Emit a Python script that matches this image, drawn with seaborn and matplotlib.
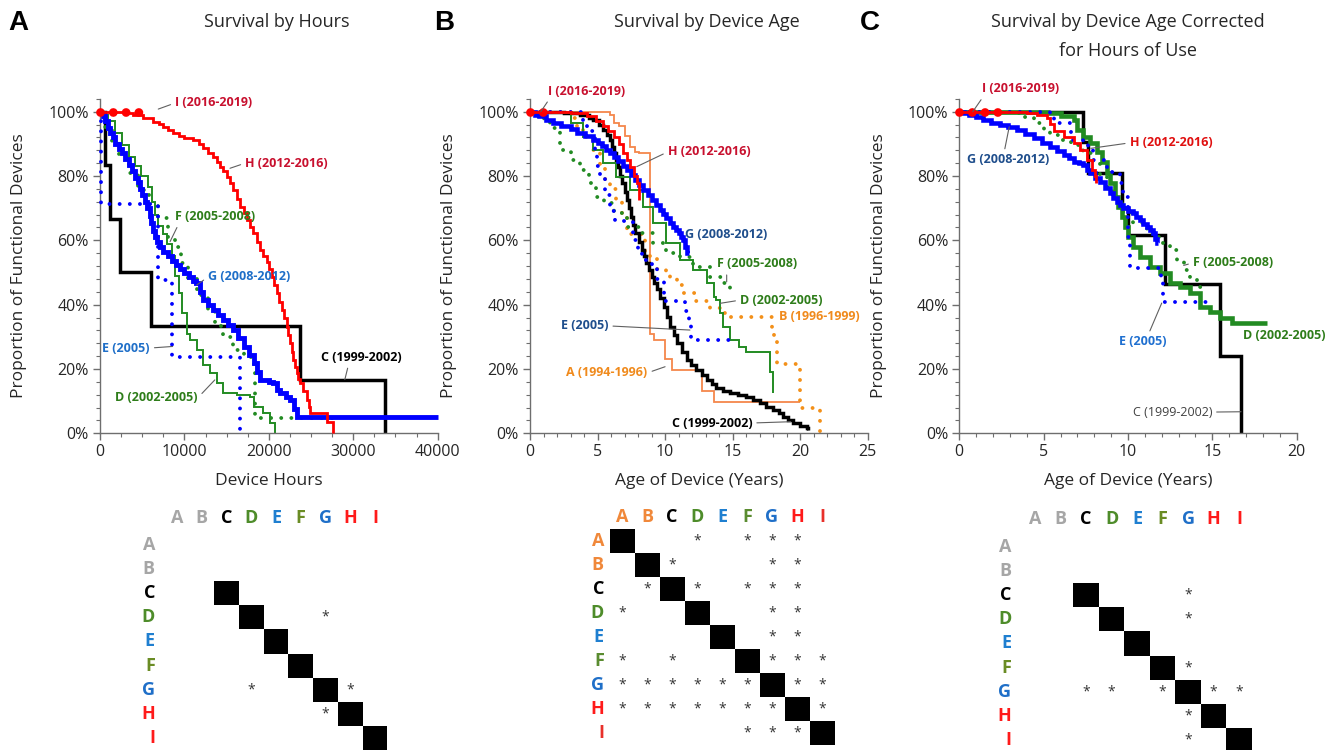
import numpy as np
import pandas as pd
import matplotlib
matplotlib.use("Agg")
import matplotlib.pyplot as plt
import seaborn as sns
from matplotlib.colors import ListedColormap
from matplotlib.ticker import MultipleLocator, FuncFormatter

# ------------------------------------------------------------------ data
# Panel A : survival by device hours
A_hours_C = [0, 600, 1200, 2400, 6000, 23700, 33800]
A_surv_C = [1.0, 0.833, 0.667, 0.5, 0.333, 0.167, 0.0]
A_hours_D = [0, 400, 1000, 1800, 2600, 3400, 4100, 4900, 5700, 6200, 6500, 6900, 7500, 7900, 8500, 8900,
             9300, 9700, 10300, 10700, 11450, 12250, 13000, 13800, 14600, 16200, 17800, 18200, 19350, 20150, 20700]
A_surv_D = [1.0, 0.99, 0.97, 0.935, 0.895, 0.86, 0.83, 0.80, 0.765, 0.72, 0.68, 0.645, 0.62, 0.59, 0.55, 0.49,
            0.435, 0.373, 0.31, 0.29, 0.259, 0.212, 0.187, 0.155, 0.124, 0.119, 0.114, 0.083, 0.062, 0.031, 0.0]
A_hours_E = [0, 100, 6900, 8550, 16600]
A_surv_E = [1.0, 0.714, 0.476, 0.238, 0.0]
A_hours_F = [0, 300, 600, 1400, 2200, 3400, 4500, 5800, 6900, 8000, 8900, 9600, 10400, 11500, 12800, 13600,
             14600, 15800, 17000, 18200, 18400, 27700]
A_surv_F = [1.0, 0.98, 0.953, 0.902, 0.86, 0.808, 0.757, 0.71, 0.67, 0.61, 0.58, 0.53, 0.48, 0.43, 0.385, 0.335,
            0.30, 0.259, 0.238, 0.207, 0.047, 0.047]
A_hours_G = [0, 150, 300, 600, 900, 1200, 1500, 1800, 2200, 2600, 3000, 3400, 3800, 4200, 4500, 4700, 5000,
             5300, 5600, 5900, 6100, 6300, 6500, 6700, 7100, 7500, 8000, 8500, 9000, 9500, 10000, 10500, 11000,
             11400, 11800, 12200, 12800, 13400, 14000, 14600, 15200, 15800, 16400, 17000, 17600, 18200, 18600,
             19000, 20000, 20500, 21000, 21300, 22000, 22500, 23000, 23300, 40000]
A_surv_G = [1.0, 0.995, 0.985, 0.97, 0.95, 0.935, 0.92, 0.90, 0.885, 0.87, 0.852, 0.835, 0.815, 0.795, 0.78,
            0.76, 0.74, 0.72, 0.70, 0.675, 0.655, 0.63, 0.61, 0.595, 0.58, 0.565, 0.55, 0.535, 0.522, 0.51,
            0.498, 0.485, 0.475, 0.466, 0.44, 0.415, 0.40, 0.383, 0.368, 0.352, 0.337, 0.321, 0.295, 0.269,
            0.243, 0.218, 0.19, 0.166, 0.16, 0.155, 0.135, 0.124, 0.114, 0.104, 0.075, 0.052, 0.052]
A_hours_H = [0, 2800, 3950, 5100, 6300, 7000, 7500, 8100, 8700, 9300, 9900, 11050, 11700, 12250, 12800, 13400,
             13800, 14200, 14600, 15000, 15400, 15800, 16200, 16600, 17000, 17400, 17800, 18150, 18550, 18950,
             19350, 19750, 20050, 20350, 20650, 20950, 21250, 21500, 21800, 22100, 22300, 22500, 22700, 22900,
             23100, 23300, 23500, 23700, 24100, 24500, 24700, 24900, 26850, 27550]
A_surv_H = [1.0, 0.995, 0.99, 0.979, 0.969, 0.962, 0.953, 0.943, 0.933, 0.925, 0.917, 0.912, 0.90, 0.886, 0.873,
            0.86, 0.845, 0.829, 0.815, 0.798, 0.778, 0.756, 0.73, 0.705, 0.685, 0.663, 0.642, 0.622, 0.596, 0.570,
            0.552, 0.534, 0.51, 0.487, 0.461, 0.435, 0.409, 0.383, 0.357, 0.332, 0.306, 0.280, 0.254, 0.228,
            0.207, 0.187, 0.17, 0.155, 0.13, 0.104, 0.083, 0.062, 0.036, 0.0]
A_hours_I = [0, 5900]
A_surv_I = [1.0, 1.0]

# Panel B : survival by device age (years)
B_age_A = [0, 5.9, 6.2, 6.6, 7.0, 7.4, 7.8, 8.1, 8.9, 9.2, 10.0, 10.5, 12.7, 13.6, 20.0]
B_surv_A = [1.0, 0.99, 0.965, 0.955, 0.925, 0.89, 0.875, 0.87, 0.31, 0.29, 0.23, 0.197, 0.13, 0.098, 0.098]
B_age_B = [0, 3.0, 3.5, 3.95, 4.7, 5.2, 5.55, 5.9, 6.4, 6.8, 7.2, 8.5, 9.4, 10.1, 10.4, 10.9, 11.35, 12.3, 13.3,
           14.1, 14.7, 17.9, 18.1, 18.3, 20.0, 21.5]
B_surv_B = [1.0, 0.98, 0.95, 0.92, 0.88, 0.83, 0.79, 0.76, 0.72, 0.68, 0.62, 0.55, 0.51, 0.49, 0.48, 0.46, 0.435,
            0.41, 0.39, 0.373, 0.361, 0.33, 0.29, 0.215, 0.08, 0.0]
B_age_C = [0, 2.5, 3.7, 4.4, 4.7, 5.1, 5.4, 5.7, 5.9, 6.05, 6.2, 6.35, 6.5, 6.65, 6.8, 7.0, 7.2, 7.35, 7.5, 7.65,
           7.8, 8.05, 8.3, 8.45, 8.6, 8.8, 9.0, 9.2, 9.4, 9.65, 9.9, 10.15, 10.4, 10.65, 10.9, 11.25, 11.6, 11.95,
           12.3, 12.7, 13.1, 13.45, 13.8, 14.3, 14.8, 15.4, 16.0, 16.5, 17.0, 17.5, 18.0, 18.4, 18.75, 19.1, 19.5,
           20.0, 20.5, 20.6]
B_surv_C = [1.0, 0.995, 0.99, 0.98, 0.974, 0.958, 0.943, 0.928, 0.912, 0.89, 0.871, 0.85, 0.829, 0.80, 0.777,
            0.75, 0.725, 0.70, 0.674, 0.648, 0.622, 0.596, 0.570, 0.55, 0.529, 0.508, 0.487, 0.468, 0.45, 0.422,
            0.394, 0.362, 0.331, 0.305, 0.28, 0.254, 0.228, 0.212, 0.197, 0.181, 0.166, 0.153, 0.14, 0.132, 0.124,
            0.119, 0.114, 0.104, 0.093, 0.083, 0.072, 0.062, 0.052, 0.041, 0.031, 0.023, 0.016, 0.01]
B_age_D = [0, 1.7, 3.0, 3.95, 4.7, 5.4, 6.4, 7.4, 8.4, 9.1, 10.1, 11.1, 12.1, 13.1, 13.6, 13.8, 14.1, 14.3, 14.8,
           15.5, 16.0, 17.8, 18.0]
B_surv_D = [1.0, 0.995, 0.964, 0.922, 0.881, 0.840, 0.798, 0.757, 0.705, 0.653, 0.591, 0.539, 0.508, 0.466, 0.425,
            0.415, 0.373, 0.331, 0.290, 0.269, 0.254, 0.192, 0.124]
B_age_E = [0, 3.9, 4.2, 4.8, 4.95, 5.2, 5.55, 5.9, 6.3, 7.6, 7.8, 8.0, 8.3, 9.0, 9.4, 9.9, 11.5, 11.8, 11.95, 14.7]
B_surv_E = [1.0, 0.96, 0.94, 0.87, 0.83, 0.79, 0.74, 0.69, 0.66, 0.62, 0.60, 0.57, 0.54, 0.51, 0.48, 0.41, 0.38,
            0.35, 0.29, 0.29]
B_age_F = [0, 0.6, 1.0, 1.5, 2.2, 3.0, 3.7, 4.4, 4.9, 5.5, 6.2, 7.2, 8.1, 9.1, 10.1, 11.1, 12.1, 13.3, 14.3, 14.8]
B_surv_F = [1.0, 0.985, 0.97, 0.95, 0.881, 0.85, 0.819, 0.777, 0.736, 0.715, 0.684, 0.642, 0.622, 0.591, 0.56,
            0.549, 0.518, 0.487, 0.466, 0.43]
B_age_G = [0, 0.4, 0.7, 1.2, 1.7, 2.3, 3.0, 3.5, 4.1, 4.7, 5.0, 5.3, 5.6, 5.9, 6.2, 6.5, 6.85, 7.2, 7.5, 7.8, 8.1,
           8.4, 8.7, 9.0, 9.3, 9.6, 9.85, 10.1, 10.35, 10.6, 10.8, 11.0, 11.2, 11.35, 11.5, 11.6, 11.75]
B_surv_G = [1.0, 0.99, 0.985, 0.975, 0.965, 0.955, 0.945, 0.933, 0.925, 0.912, 0.903, 0.893, 0.882, 0.871, 0.858,
            0.846, 0.832, 0.819, 0.803, 0.788, 0.772, 0.757, 0.741, 0.725, 0.71, 0.694, 0.681, 0.668, 0.655, 0.642,
            0.632, 0.622, 0.611, 0.601, 0.58, 0.56, 0.56]
B_age_H = [0, 3.0, 4.2, 4.9, 5.4, 5.8, 6.2, 6.6, 6.9, 7.2, 7.4, 7.7, 7.9, 8.05]
B_surv_H = [1.0, 0.995, 0.985, 0.97, 0.954, 0.94, 0.922, 0.90, 0.871, 0.85, 0.829, 0.80, 0.777, 0.725]
B_age_I = [0, 1.85]
B_surv_I = [1.0, 1.0]

# Panel C : survival by device age corrected for hours of use
C_age_C = [0, 7.31, 7.6, 9.63, 10.0, 12.2, 15.45, 16.7]
C_surv_C = [1.0, 0.907, 0.81, 0.70, 0.617, 0.464, 0.24, 0.0]
C_age_D = [0, 5.2, 6.0, 6.8, 7.0, 7.35, 7.75, 8.14, 8.44, 8.74, 8.93, 9.23, 9.43, 9.63, 9.82, 10.02, 10.31, 10.71,
           11.3, 11.9, 12.49, 13.08, 13.68, 14.27, 14.86, 15.45, 16.15, 18.22]
C_surv_D = [1.0, 0.995, 0.985, 0.974, 0.943, 0.922, 0.902, 0.876, 0.845, 0.808, 0.777, 0.736, 0.705, 0.674, 0.642,
            0.611, 0.580, 0.549, 0.518, 0.497, 0.466, 0.455, 0.435, 0.394, 0.378, 0.358, 0.342, 0.342]
C_age_E = [0, 5.4, 5.6, 6.6, 7.35, 7.65, 7.95, 8.75, 9.33, 9.53, 9.72, 10.0, 10.12, 11.95, 12.05, 14.86]
C_surv_E = [1.0, 0.99, 0.964, 0.912, 0.907, 0.891, 0.85, 0.813, 0.808, 0.777, 0.736, 0.611, 0.513, 0.477, 0.409,
            0.409]
C_age_F = [0, 3.2, 3.8, 4.4, 5.0, 5.4, 6.0, 6.6, 7.35, 7.95, 8.35, 8.75, 9.13, 9.33, 9.72, 10.3, 11.1, 11.7, 12.1,
           12.5, 12.9, 13.3, 13.7, 14.1, 14.86]
C_surv_F = [1.0, 0.995, 0.984, 0.964, 0.943, 0.928, 0.912, 0.897, 0.871, 0.840, 0.798, 0.767, 0.746, 0.715, 0.684,
            0.653, 0.622, 0.611, 0.591, 0.570, 0.539, 0.508, 0.477, 0.456, 0.456]
C_age_G = [0, 0.3, 0.6, 1.0, 1.4, 1.9, 2.4, 2.9, 3.4, 3.9, 4.4, 4.9, 5.4, 5.8, 6.2, 6.5, 6.8, 7.1, 7.35, 7.55,
           7.75, 8.05, 8.34, 8.64, 8.93, 9.13, 9.33, 9.52, 9.72, 10.0, 10.31, 10.5, 10.71, 10.9, 11.1, 11.3, 11.5,
           11.6, 11.7, 11.75]
C_surv_G = [1.0, 0.995, 0.99, 0.982, 0.974, 0.966, 0.959, 0.951, 0.943, 0.93, 0.917, 0.904, 0.891, 0.878, 0.865,
            0.855, 0.845, 0.84, 0.834, 0.82, 0.808, 0.795, 0.782, 0.764, 0.746, 0.733, 0.72, 0.71, 0.70, 0.692,
            0.684, 0.673, 0.663, 0.652, 0.642, 0.632, 0.622, 0.605, 0.591, 0.591]
C_age_H = [0, 3.5, 4.0, 4.6, 5.2, 5.4, 5.6, 6.2, 6.8, 7.15, 7.55, 7.85, 8.04, 8.1]
C_surv_H = [1.0, 0.998, 0.995, 0.99, 0.979, 0.962, 0.94, 0.922, 0.902, 0.881, 0.85, 0.819, 0.80, 0.777]
C_age_I = [0, 2.31]
C_surv_I = [1.0, 1.0]

# Pairwise comparison matrices
groups = ["A", "B", "C", "D", "E", "F", "G", "H", "I"]
hours_present = [0, 0, 1, 1, 1, 1, 1, 1, 1]
hours_sig = [("D", "G"), ("G", "D"), ("G", "H"), ("H", "G")]
age_present = [1, 1, 1, 1, 1, 1, 1, 1, 1]
age_sig = [("A", "D"), ("A", "F"), ("A", "G"), ("A", "H"),
           ("B", "C"), ("B", "G"), ("B", "H"),
           ("C", "B"), ("C", "D"), ("C", "F"), ("C", "G"), ("C", "H"),
           ("D", "A"), ("D", "G"), ("D", "H"),
           ("E", "G"), ("E", "H"),
           ("F", "A"), ("F", "C"), ("F", "G"), ("F", "H"), ("F", "I"),
           ("G", "A"), ("G", "B"), ("G", "C"), ("G", "D"), ("G", "E"), ("G", "F"), ("G", "H"), ("G", "I"),
           ("H", "A"), ("H", "B"), ("H", "C"), ("H", "D"), ("H", "E"), ("H", "F"), ("H", "G"), ("H", "I"),
           ("I", "F"), ("I", "G"), ("I", "H")]
corr_present = [0, 0, 1, 1, 1, 1, 1, 1, 1]
corr_sig = [("C", "G"), ("D", "G"), ("F", "G"), ("G", "C"), ("G", "D"), ("G", "F"), ("G", "H"), ("G", "I"),
            ("H", "G"), ("I", "G")]

# ------------------------------------------------------------------ style
sns.set_theme(style="white")
plt.rcParams["font.family"] = ["Open Sans", "DejaVu Sans"]

W, H = 1329, 750
fig = plt.figure(figsize=(W / 100, H / 100), dpi=100)


def px_axes(x0, x1, y_top, y_bot):
    return fig.add_axes([x0 / W, 1 - y_bot / H, (x1 - x0) / W, (y_bot - y_top) / H])


DOT = (0, (0.01, 2.6))
BIG = (0, (0.01, 1.45))
styles = {
    "A": dict(color="#f4874b", lw=1.3, ls="-", z=2.0),
    "B": dict(color="#f39019", lw=2.8, ls=DOT, z=2.1),
    "C": dict(color="black", lw=2.5, ls="-", z=2.2),
    "D": dict(color="#228b22", lw=1.4, ls="-", z=2.3),
    "E": dict(color="#0000ff", lw=2.8, ls=DOT, z=2.6),
    "F": dict(color="#228b22", lw=2.8, ls=DOT, z=2.4),
    "G": dict(color="#0000ff", lw=3.3, ls="-", z=2.5),
    "H": dict(color="#ff0000", lw=2.0, ls="-", z=2.7),
    "I": dict(color="#ff0000", lw=6.3, ls=BIG, z=3.0),
}


def draw(ax, key, x, y, lw=None):
    st = styles[key]
    sns.lineplot(x=x, y=y, ax=ax, drawstyle="steps-post", estimator=None, sort=False,
                 color=st["color"], linewidth=lw or st["lw"], linestyle=st["ls"],
                 dash_capstyle="round", solid_capstyle="butt", solid_joinstyle="miter",
                 clip_on=False, zorder=st["z"])


def setup(ax, xmax, major, minor, xlabel):
    ax.set_xlim(0, xmax)
    ax.set_ylim(0, 1.04)
    ax.yaxis.set_major_locator(MultipleLocator(0.2))
    ax.yaxis.set_minor_locator(MultipleLocator(0.04))
    ax.xaxis.set_major_locator(MultipleLocator(major))
    ax.xaxis.set_minor_locator(MultipleLocator(minor))
    ax.yaxis.set_major_formatter(FuncFormatter(lambda v, p: f"{v * 100:.0f}%"))
    for s in ["top", "right"]:
        ax.spines[s].set_visible(False)
    for s in ["left", "bottom"]:
        ax.spines[s].set_color("#6e6e6e")
        ax.spines[s].set_linewidth(1.0)
    ax.tick_params(which="major", direction="out", length=5, width=1, color="#6e6e6e",
                   labelsize=11.5, labelcolor="#262626", left=True, bottom=True, pad=3)
    ax.tick_params(which="minor", direction="out", length=3, width=0.8, color="#6e6e6e",
                   left=True, bottom=True)
    ax.set_xlabel(xlabel, fontsize=12.5, color="#262626")
    ax.set_ylabel("Proportion of Functional Devices", fontsize=12.5, color="#262626")
    ax.xaxis.set_label_coords(0.5, -0.12)
    ax.yaxis.set_label_coords(-0.215, 0.5)
    ax.set_facecolor("none")


def label(ax, text, xytext, color, xy=None, ha="left", relpos=(0, 0.5), weight="bold"):
    kw = dict(ha=ha, va="center", color=color, fontsize=9, fontweight=weight, zorder=5)
    if xy is None:
        ax.text(xytext[0], xytext[1], text, clip_on=False, **kw)
    else:
        ax.annotate(text, xy=xy, xytext=xytext, annotation_clip=False,
                    arrowprops=dict(arrowstyle="-", color="#606060", lw=0.8, relpos=relpos,
                                    shrinkA=1, shrinkB=0), **kw)


RED_T, GRN_T, BLU_T, NAV_T, ORG_T = "#c8102e", "#2e7d1a", "#1f6fc8", "#1f4e8c", "#f08a1c"

# ------------------------------------------------------------------ Panel A
axA = px_axes(100, 437.7, 98.8, 433.3)
draw(axA, "C", A_hours_C, A_surv_C)
draw(axA, "D", A_hours_D, A_surv_D)
draw(axA, "F", A_hours_F, A_surv_F)
draw(axA, "G", A_hours_G, A_surv_G, lw=3.5)
draw(axA, "E", A_hours_E, A_surv_E)
draw(axA, "H", A_hours_H, A_surv_H)
draw(axA, "I", A_hours_I, A_surv_I)
setup(axA, 40000, 10000, 2500, "Device Hours")
label(axA, "I (2016-2019)", (8900, 1.027), RED_T, xy=(6900, 1.008))
label(axA, "H (2012-2016)", (17200, 0.840), RED_T, xy=(15400, 0.824))
label(axA, "F (2005-2008)", (8900, 0.674), GRN_T, xy=(8300, 0.596), relpos=(0.05, 0))
label(axA, "G (2008-2012)", (12800, 0.486), BLU_T, xy=(11450, 0.461))
label(axA, "E (2005)", (5900, 0.265), BLU_T, xy=(8600, 0.27), ha="right", relpos=(1, 0.5))
label(axA, "C (1999-2002)", (30900, 0.237), "black", xy=(29000, 0.167), ha="center", relpos=(0.35, 0))
label(axA, "D (2002-2005)", (1800, 0.110), GRN_T, xy=(13600, 0.166), relpos=(1, 0.5))

# ------------------------------------------------------------------ Panel B
axB = px_axes(530, 867.7, 98.8, 433.3)
draw(axB, "A", B_age_A, B_surv_A)
draw(axB, "B", B_age_B, B_surv_B)
draw(axB, "C", B_age_C, B_surv_C)
draw(axB, "D", B_age_D, B_surv_D)
draw(axB, "F", B_age_F, B_surv_F)
draw(axB, "E", B_age_E, B_surv_E)
draw(axB, "G", B_age_G, B_surv_G)
draw(axB, "H", B_age_H, B_surv_H)
draw(axB, "I", B_age_I, B_surv_I)
setup(axB, 25, 5, 1, "Age of Device (Years)")
label(axB, "I (2016-2019)", (1.35, 1.064), RED_T, xy=(0.8, 1.0), relpos=(0.05, 0.2))
label(axB, "H (2012-2016)", (10.2, 0.875), RED_T, xy=(7.9, 0.829))
label(axB, "G (2008-2012)", (11.5, 0.619), NAV_T)
label(axB, "F (2005-2008)", (13.85, 0.527), GRN_T, xy=(14.56, 0.471), relpos=(0.12, 0))
label(axB, "D (2002-2005)", (15.55, 0.414), GRN_T, xy=(14.06, 0.404))
label(axB, "B (1996-1999)", (18.4, 0.362), ORG_T)
label(axB, "E (2005)", (5.8, 0.334), NAV_T, xy=(11.84, 0.321), ha="right", relpos=(1, 0.5))
label(axB, "A (1994-1996)", (8.7, 0.188), ORG_T, xy=(10.0, 0.207), ha="right", relpos=(1, 0.5))
label(axB, "C (1999-2002)", (16.45, 0.032), "black", xy=(19.3, 0.036), ha="right", relpos=(1, 0.5))

# ------------------------------------------------------------------ Panel C
axC = px_axes(959.3, 1296.7, 98.8, 433.3)
draw(axC, "C", C_age_C, C_surv_C)
draw(axC, "D", C_age_D, C_surv_D, lw=3.3)
draw(axC, "F", C_age_F, C_surv_F)
draw(axC, "E", C_age_E, C_surv_E)
draw(axC, "G", C_age_G, C_surv_G)
draw(axC, "H", C_age_H, C_surv_H)
draw(axC, "I", C_age_I, C_surv_I)
setup(axC, 20, 5, 1, "Age of Device (Years)")
label(axC, "I (2016-2019)", (1.35, 1.071), RED_T, xy=(0.8, 1.0), relpos=(0.05, 0.2))
label(axC, "G (2008-2012)", (0.45, 0.85), NAV_T, xy=(2.96, 0.953), relpos=(0.45, 1))
label(axC, "H (2012-2016)", (10.1, 0.903), "#e01010", xy=(7.8, 0.886))
label(axC, "F (2005-2008)", (13.85, 0.530), GRN_T, xy=(13.3, 0.522))
label(axC, "E (2005)", (10.9, 0.284), "#2070d0", xy=(12.0, 0.405), ha="center", relpos=(0.6, 1))
label(axC, "D (2002-2005)", (16.8, 0.303), GRN_T)
label(axC, "C (1999-2002)", (14.98, 0.066), "#404040", xy=(16.7, 0.067), ha="right", relpos=(1, 0.5),
      weight="normal")

# ------------------------------------------------------------------ titles
title_kw = dict(ha="center", va="center", fontsize=13, color="#262626")
fig.text(277 / W, 1 - 22 / H, "Survival by Hours", **title_kw)
fig.text(707 / W, 1 - 22 / H, "Survival by Device Age", **title_kw)
fig.text(1128 / W, 1 - 22 / H, "Survival by Device Age Corrected", **title_kw)
fig.text(1128 / W, 1 - 51 / H, "for Hours of Use", **title_kw)
letter_kw = dict(ha="left", va="center", fontsize=20, fontweight="bold", color="black",
                 family=["Liberation Sans", "DejaVu Sans"])
fig.text(8 / W, 1 - 23 / H, "A", **letter_kw)
fig.text(434 / W, 1 - 23 / H, "B", **letter_kw)
fig.text(860 / W, 1 - 23 / H, "C", **letter_kw)

# ------------------------------------------------------------------ matrices
GRAY = "#a6a6a6"
col_std = {"A": GRAY, "B": GRAY, "C": "black", "D": "#4e8c2a", "E": "#1f7fd0", "F": "#6a8c24",
           "G": "#1f6fc8", "H": "#ff1a1a", "I": "#ff1a1a"}
col_age = dict(col_std, A="#f0883a", B="#f0883a", F="#5a8c30", I="#e8302a")


def matrix(rect, present, sig, colors, xpad, ypad):
    ax = px_axes(*rect)
    vals = pd.DataFrame(np.diag(present).astype(float), index=groups, columns=groups)
    annot = pd.DataFrame("", index=groups, columns=groups)
    for r, c in sig:
        annot.loc[r, c] = "*"
    sns.heatmap(vals, ax=ax, cmap=ListedColormap(["white", "black"]), vmin=0, vmax=1, cbar=False,
                annot=annot.values, fmt="", annot_kws=dict(fontsize=10, color="#333333"),
                xticklabels=groups, yticklabels=groups, linewidths=0)
    ax.xaxis.tick_top()
    ax.tick_params(axis="both", length=0)
    ax.tick_params(axis="x", pad=xpad)
    ax.tick_params(axis="y", pad=ypad)
    for t in list(ax.get_xticklabels()) + list(ax.get_yticklabels()):
        t.set_rotation(0)
        t.set_family(["Open Sans", "DejaVu Sans"])
        t.set_fontsize(13)
        t.set_fontweight("bold")
        t.set_color(colors[t.get_text()])
    return ax


matrix((164.6, 387.4, 533, 750), hours_present, hours_sig, col_std, 4, 7)
matrix((609.5, 834.5, 529, 745), age_present, age_sig, col_age, 2, 4)
matrix((1022.3, 1251.8, 535, 752), corr_present, corr_sig, col_std, 5, 8)

fig.savefig("out.png", dpi=100)
